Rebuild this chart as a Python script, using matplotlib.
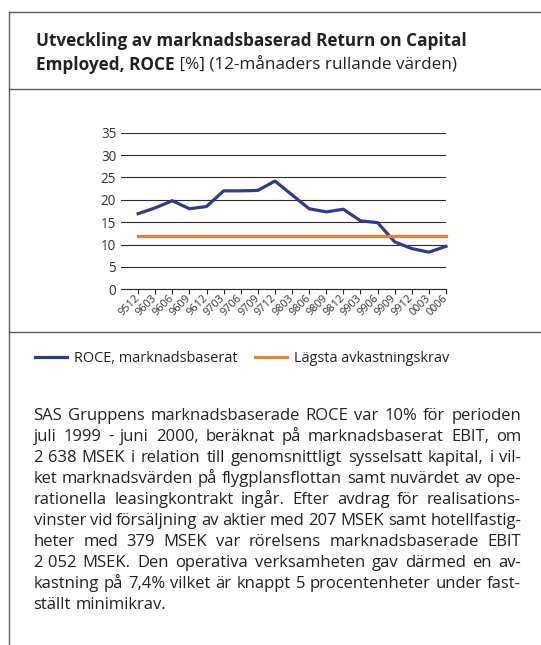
import matplotlib
matplotlib.use('Agg')
import matplotlib.pyplot as plt
from matplotlib.lines import Line2D

W, H = 541, 645

# ---------------- data ----------------
categories = ['9512', '9603', '9606', '9609', '9612', '9703', '9706', '9709', '9712',
              '9803', '9806', '9809', '9812', '9903', '9906', '9909', '9912', '0003', '0006']
roce_market = [16.9, 18.2, 19.8, 18.0, 18.5, 22.0, 22.0, 22.1, 24.2,
               21.1, 18.0, 17.3, 17.9, 15.3, 14.9, 10.6, 9.1, 8.3, 9.6]
min_requirement = [12.0] * len(categories)
y_ticks = [0, 5, 10, 15, 20, 25, 30, 35]
series_names = ['ROCE, marknadsbaserat', 'Lägsta avkastningskrav']

title_line1 = 'Utveckling av marknadsbaserad Return on Capital'
title_line2_bold = 'Employed, ROCE'
title_line2_rest = ' [%] (12-månaders rullande värden)'

# '~' marks a non-breaking space
paragraph_lines = [
    'SAS Gruppens marknadsbaserade ROCE var 10% för perioden',
    'juli 1999 - juni 2000, beräknat på marknadsbaserat EBIT, om',
    '2~638 MSEK i relation till genomsnittligt sysselsatt kapital, i vil-',
    'ket marknadsvärden på flygplansflottan samt nuvärdet av ope-',
    'rationella leasingkontrakt ingår. Efter avdrag för realisations-',
    'vinster vid försäljning av aktier med 207 MSEK samt hotellfastig-',
    'heter med 379 MSEK var rörelsens marknadsbaserade EBIT',
    '2~052 MSEK. Den operativa verksamheten gav därmed en av-',
    'kastning på 7,4% vilket är knappt 5 procentenheter under fast-',
    'ställt minimikrav.',
]

# ---------------- style ----------------
FONT = ['Open Sans', 'DejaVu Sans']
plt.rcParams['font.family'] = FONT
TEXT = '#222222'
BLUE = '#2E3C8E'
ORANGE = '#EE7D3A'
GRID = '#2a2a2a'
FRAME = '#5c5c5c'

fig = plt.figure(figsize=(W / 100, H / 100), dpi=100)
renderer = fig.canvas.get_renderer()


def fx(x):
    return x / W


def fy(y):
    return 1 - y / H


def width_px(s, **kw):
    t = fig.text(0, 0, s, **kw)
    w = t.get_window_extent(renderer=renderer).width
    t.remove()
    return w


def fit_size(s, target, **kw):
    return 10.0 * target / width_px(s, fontsize=10.0, **kw)


# frame lines
for (x0, y0, x1, y1) in [(9, 12, W, 12), (9, 89, W, 89), (9, 331.5, W, 331.5), (9, 12, 9, H)]:
    fig.add_artist(Line2D([fx(x0), fx(x1)], [fy(y0), fy(y1)], transform=fig.transFigure,
                          color=FRAME, lw=1.0))

# ---------------- chart ----------------
ax = fig.add_axes([fx(121), fy(289.3), (446 - 121) / W, (289.3 - 132.7) / H])
x = list(range(len(categories)))
l1, = ax.plot(x, roce_market, color=BLUE, lw=2.3, label=series_names[0], clip_on=False, zorder=3)
l2, = ax.plot(x, min_requirement, color=ORANGE, lw=2.3, label=series_names[1], clip_on=False, zorder=3)
ax.set_xlim(-1.0, len(categories) - 1)
ax.set_ylim(0, 35)
ax.set_yticks(y_ticks)
ax.set_yticklabels([str(v) for v in y_ticks])
ax.set_xticks(x)
ax.set_xticklabels(categories, rotation=45, ha='right', va='center', rotation_mode='anchor')
ysize = fit_size('35', 15.5)
xsize = fit_size('9512', 25)
ax.tick_params(axis='y', length=0, pad=3.5, labelsize=ysize, labelcolor='#333333')
ax.tick_params(axis='x', length=3.5, width=0.8, color=GRID, pad=2, labelsize=xsize, labelcolor='#333333')
ax.grid(axis='y', color=GRID, lw=0.8)
ax.set_axisbelow(True)
for s in ['top', 'left', 'right']:
    ax.spines[s].set_visible(False)
ax.spines['bottom'].set_color(GRID)
ax.spines['bottom'].set_linewidth(0.8)
ax.patch.set_alpha(0)

# ---------------- title ----------------
TSIZE = fit_size(title_line1, 431, fontweight='bold')
fig.text(fx(36), fy(46.5), title_line1, fontsize=TSIZE, fontweight='bold', color=TEXT, va='baseline')
fig.text(fx(36), fy(69.5), title_line2_bold, fontsize=TSIZE, fontweight='bold', color=TEXT, va='baseline')
wb = width_px(title_line2_bold, fontsize=TSIZE, fontweight='bold')
fig.text(fx(36 + wb), fy(69.5), title_line2_rest, fontsize=TSIZE, color=TEXT, va='baseline')

# ---------------- legend ----------------
LSIZE = fit_size(series_names[0], 164)
fig.legend(handles=[l1, l2], labels=series_names, loc='center left',
           bbox_to_anchor=(fx(34.5), fy(358.5)), ncol=2, frameon=False,
           fontsize=LSIZE, handlelength=2.25, handletextpad=0.45, columnspacing=1.2,
           borderpad=0, borderaxespad=0, labelcolor=TEXT)

# ---------------- justified paragraph ----------------
left, right = 33.5, 521
PSIZE = min(fit_size(ln.replace('~', ' '), (right - left) * 1.015) for ln in paragraph_lines[:-1])
base0, step = 419.5, 21.1
space_w = width_px('a a', fontsize=PSIZE) - width_px('aa', fontsize=PSIZE)
for i, line in enumerate(paragraph_lines):
    words = [w.replace('~', ' ') for w in line.split(' ')]
    widths = [width_px(w, fontsize=PSIZE) for w in words]
    last = i == len(paragraph_lines) - 1
    if last or len(words) == 1:
        gap = space_w
    else:
        gap = (right - left - sum(widths)) / (len(words) - 1)
    xpos = left
    y = base0 + i * step
    for w, wd in zip(words, widths):
        fig.text(fx(xpos), fy(y), w, fontsize=PSIZE, color=TEXT, va='baseline', ha='left')
        xpos += wd + gap

fig.savefig('out.png', dpi=100)
